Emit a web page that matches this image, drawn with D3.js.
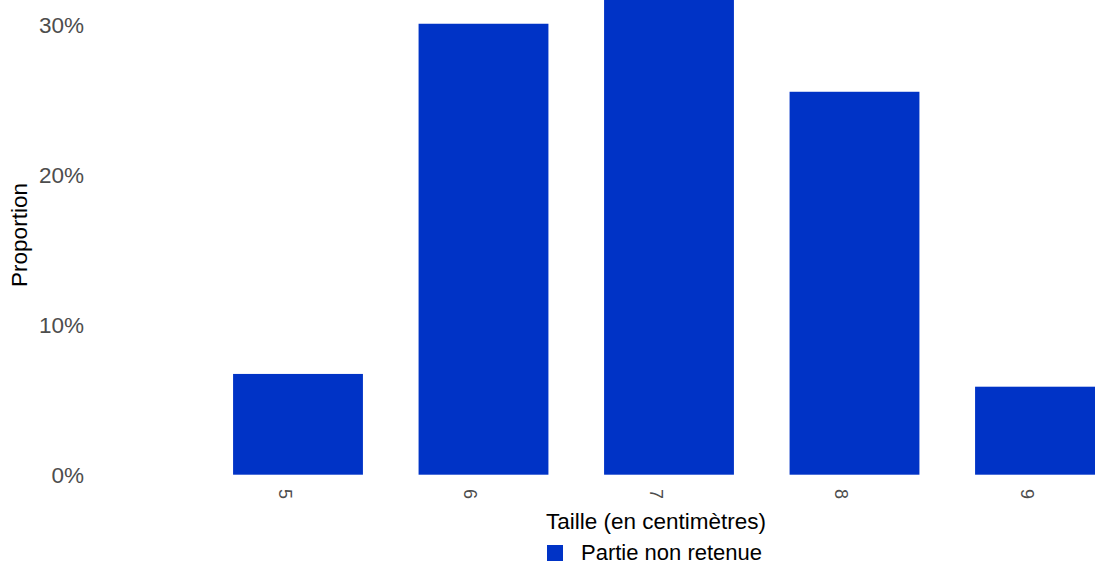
<!DOCTYPE html>
<html>
<head>
<meta charset="utf-8">
<script src="https://cdn.jsdelivr.net/npm/d3@7"></script>
<style>
  html, body { margin: 0; padding: 0; background: #fff; overflow: hidden; }
  svg { display: block; font-family: "Liberation Sans", Arial, sans-serif; }
</style>
</head>
<body>
<svg id="chart" width="1095" height="565"></svg>
<script>
// Size classes (cm) and share of each class for the discarded part
const categories = ["5", "6", "7", "8", "9"];
const proportions = [0.0671, 0.3003, 0.319, 0.255, 0.0586];
const yTicks = [0, 0.1, 0.2, 0.3];
const seriesName = "Partie non retenue";
const xTitle = "Taille (en centimètres)";
const yTitle = "Proportion";

const barColor = "#0033c6";
const textColor = "#4d4d4d";

const svg = d3.select("#chart");
const W = 1095, H = 565;

const step = 185.5;
const firstCenter = 298;
const x = d3.scaleBand()
  .domain(categories)
  .range([firstCenter - step / 2, firstCenter - step / 2 + step * categories.length])
  .paddingInner(0.3)
  .paddingOuter(0.15);

const y = d3.scaleLinear().domain([0, 0.3]).range([474.7, 24.2]);

// clip the plot area to the drawing
svg.append("defs").append("clipPath").attr("id", "plotClip")
  .append("rect").attr("x", 0).attr("y", 0).attr("width", W).attr("height", H);

const plot = svg.append("g").attr("clip-path", "url(#plotClip)");

plot.selectAll("rect.bar")
  .data(categories.map((c, i) => ({ c, v: proportions[i] })))
  .join("rect")
  .attr("class", "bar")
  .attr("x", d => x(d.c))
  .attr("width", x.bandwidth())
  .attr("y", d => y(d.v))
  .attr("height", d => y(0) - y(d.v))
  .attr("fill", barColor);

// y axis
const yAxis = d3.axisLeft(y)
  .tickValues(yTicks)
  .tickFormat(d3.format(".0%"))
  .tickSize(0)
  .tickPadding(0);
const gy = svg.append("g").attr("transform", "translate(84,0)").call(yAxis);
gy.select(".domain").remove();
gy.selectAll("text")
  .attr("fill", textColor)
  .attr("font-size", 22.5)
  .attr("font-family", "Liberation Sans, Arial, sans-serif")
  .attr("dy", "0.35em");

// x axis with labels turned a quarter clockwise
const xAxis = d3.axisBottom(x).tickSize(0).tickPadding(0);
const gx = svg.append("g").attr("transform", "translate(0,475)").call(xAxis);
gx.select(".domain").remove();
gx.selectAll("text")
  .attr("fill", textColor)
  .attr("font-size", 18)
  .attr("font-family", "Liberation Sans, Arial, sans-serif")
  .attr("text-anchor", "middle")
  .attr("dy", "0.35em")
  .attr("y", 0)
  .attr("transform", "translate(-13,19) rotate(90)");

// axis titles
svg.append("text")
  .attr("x", 656).attr("y", 529)
  .attr("text-anchor", "middle")
  .attr("font-size", 22.5)
  .attr("fill", "#000")
  .text(xTitle);

svg.append("text")
  .attr("transform", "translate(27,235) rotate(-90)")
  .attr("text-anchor", "middle")
  .attr("font-size", 22.5)
  .attr("fill", "#000")
  .text(yTitle);

// legend
const legend = svg.append("g").attr("transform", "translate(547,545)");
legend.append("rect").attr("width", 16).attr("height", 16).attr("fill", barColor);
legend.append("text")
  .attr("x", 34).attr("y", 7.5).attr("dy", "0.35em")
  .attr("font-size", 22)
  .attr("fill", "#000")
  .text(seriesName);
</script>
</body>
</html>
